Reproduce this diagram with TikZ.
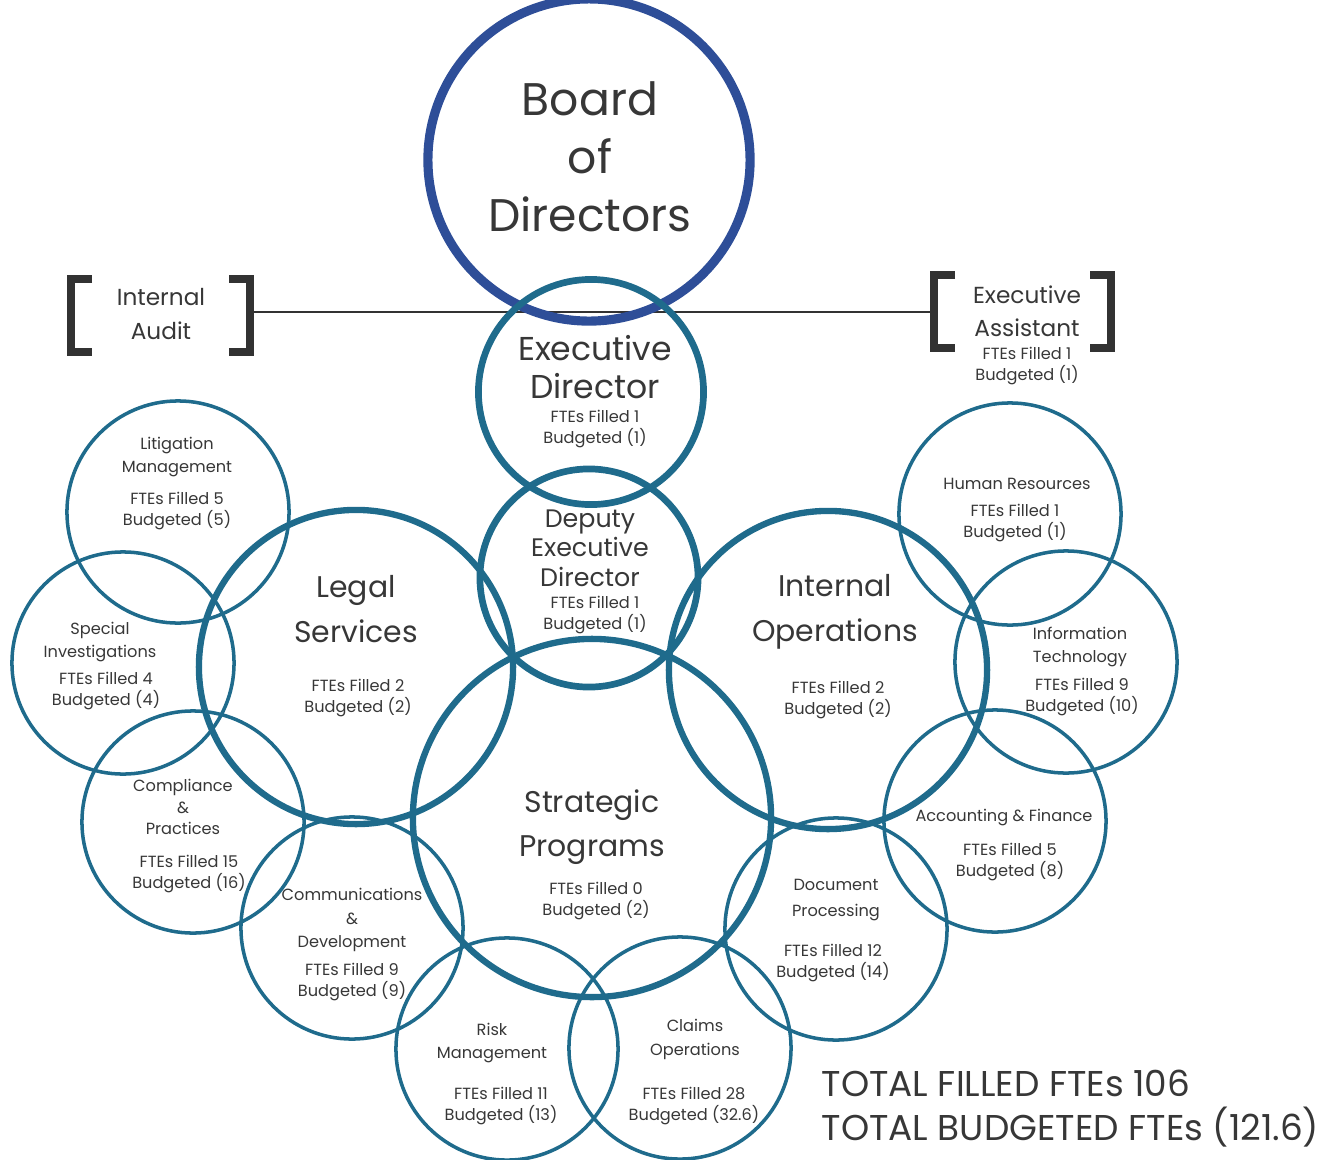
\documentclass[tikz,border=0pt]{standalone}
\usepackage{fontspec}
\setmainfont{Poppins}
\definecolor{boardblue}{RGB}{46,78,152}
\definecolor{orgteal}{RGB}{31,107,140}
\definecolor{txtgray}{RGB}{55,55,55}
\definecolor{brgray}{RGB}{50,50,50}
\begin{document}
\begin{tikzpicture}[x=0.01cm,y=-0.01cm,
  ring/.style={circle, draw=orgteal, inner sep=0pt, outer sep=0pt},
  smallring/.style={ring, line width=1pt, minimum size=2.22cm},
  bigring/.style={ring, line width=1.8pt},
  txt/.style={inner sep=0pt, align=center, text=txtgray},
  boardtxt/.style={txt, font=\fontsize{13}{16.5}\selectfont},
  edtxt/.style={txt, font=\fontsize{9.4}{10.8}\selectfont},
  deptxt/.style={txt, font=\fontsize{7.2}{8.4}\selectfont},
  bigtxt/.style={txt, font=\fontsize{8.5}{12.7}\selectfont},
  smalltxt/.style={txt, font=\fontsize{4.6}{6.8}\selectfont},
  ftetxt/.style={txt, font=\fontsize{4.6}{6.0}\selectfont},
  bracktxt/.style={txt, font=\fontsize{6.6}{9.4}\selectfont},
  totaltxt/.style={txt, align=left, font=\fontsize{10.2}{12.5}\selectfont},
  bracket/.style={draw=brgray, line width=2.2pt, line join=miter},
  link/.style={draw=brgray, line width=0.6pt}
]
\useasboundingbox (0,0) rectangle (1338,1160);

% connector between the bracketed boxes
\coordinate (iaR) at (253,312);
\coordinate (eaL) at (932,312);
\draw[link] (iaR) -- (eaL);

% brackets
\draw[bracket] (92,279) -- (71,279) -- (71,352) -- (92,352);
\draw[bracket] (229,279) -- (250,279) -- (250,352) -- (229,352);
\draw[bracket] (955,275) -- (934,275) -- (934,348) -- (955,348);
\draw[bracket] (1090,275) -- (1111,275) -- (1111,348) -- (1090,348);

% main circles
\node[ring, draw=boardblue, line width=2.6pt, minimum size=3.22cm] (board) at (589,160) {};
\node[bigring, line width=1.9pt, minimum size=2.25cm] (exec) at (591,392) {};
\node[bigring, line width=1.9pt, minimum size=2.18cm] (deputy) at (589,578) {};
\node[bigring, minimum size=3.14cm] (legal) at (356,667) {};
\node[bigring, minimum size=3.18cm] (intops) at (828,670) {};
\node[bigring, minimum size=3.58cm] (strat) at (592,818) {};

% small circles
\node[smallring] (litig) at (178,512) {};
\node[smallring] (special) at (123,663) {};
\node[smallring] (compl) at (193,822) {};
\node[smallring] (comm) at (352,928) {};
\node[smallring] (risk) at (507,1049) {};
\node[smallring] (claims) at (680,1048) {};
\node[smallring] (docproc) at (836,929) {};
\node[smallring] (acct) at (995,821) {};
\node[smallring] (it) at (1066,662) {};
\node[smallring] (hr) at (1010,514) {};

% texts
\node[boardtxt] (boardT) at (590,157) {Board\\of\\Directors};
\node[bracktxt] (iaT) at (161,314) {Internal\\Audit};
\node[bracktxt] (eaT) at (1027,311) {Executive\\Assistant};
\node[ftetxt] (eaF) at (1027,366) {FTEs Filled 1\\Budgeted (1)};

\node[edtxt] (execT) at (595,367) {Executive\\Director};
\node[ftetxt] (execF) at (595,429) {FTEs Filled 1\\Budgeted (1)};

\node[deptxt] (depT) at (590,548) {Deputy\\Executive\\Director};
\node[ftetxt] (depF) at (595,615) {FTEs Filled 1\\Budgeted (1)};

\node[bigtxt] (legalT) at (356,609) {Legal\\Services};
\node[ftetxt] (legalF) at (358,698) {FTEs Filled 2\\Budgeted (2)};

\node[bigtxt] (intopsT) at (835,612) {Internal\\Operations};
\node[ftetxt] (intopsF) at (838,700) {FTEs Filled 2\\Budgeted (2)};

\node[bigtxt] (stratT) at (592,827) {Strategic\\Programs};
\node[ftetxt] (stratF) at (596,901) {FTEs Filled 0\\Budgeted (2)};

\node[smalltxt] (litigT) at (177,457) {Litigation\\Management};
\node[ftetxt] (litigF) at (177,511) {FTEs Filled 5\\Budgeted (5)};

\node[smalltxt] (specialT) at (100,642) {Special\\Investigations};
\node[ftetxt] (specialF) at (106,691) {FTEs Filled 4\\Budgeted (4)};

\node[smalltxt, font=\fontsize{4.6}{6.1}\selectfont] (complT) at (183,807) {Compliance\\\&\\Practices};
\node[ftetxt] (complF) at (189,874) {FTEs Filled 15\\Budgeted (16)};

\node[smalltxt] (commT) at (352,920) {Communications\\\&\\Development};
\node[ftetxt] (commF) at (352,982) {FTEs Filled 9\\Budgeted (9)};

\node[smalltxt] (riskT) at (492,1043) {Risk\\Management};
\node[ftetxt] (riskF) at (501,1106) {FTEs Filled 11\\Budgeted (13)};

\node[smalltxt] (claimsT) at (695,1039) {Claims\\Operations};
\node[ftetxt] (claimsF) at (694,1106) {FTEs Filled 28\\Budgeted (32.6)};

\node[smalltxt, font=\fontsize{4.6}{7.4}\selectfont] (docT) at (836,900) {Document\\Processing};
\node[ftetxt] (docF) at (833,963) {FTEs Filled 12\\Budgeted (14)};

\node[smalltxt] (acctT) at (1004,818) {Accounting \& Finance};
\node[ftetxt] (acctF) at (1010,862) {FTEs Filled 5\\Budgeted (8)};

\node[smalltxt] (itT) at (1080,647) {Information\\Technology};
\node[ftetxt] (itF) at (1082,697) {FTEs Filled 9\\Budgeted (10)};

\node[smalltxt] (hrT) at (1017,484) {Human Resources};
\node[ftetxt] (hrF) at (1015,523) {FTEs Filled 1\\Budgeted (1)};

\node[totaltxt, anchor=west] (total) at (821,1109) {TOTAL FILLED FTEs 106\\TOTAL BUDGETED FTEs (121.6)};
\end{tikzpicture}
\end{document}
